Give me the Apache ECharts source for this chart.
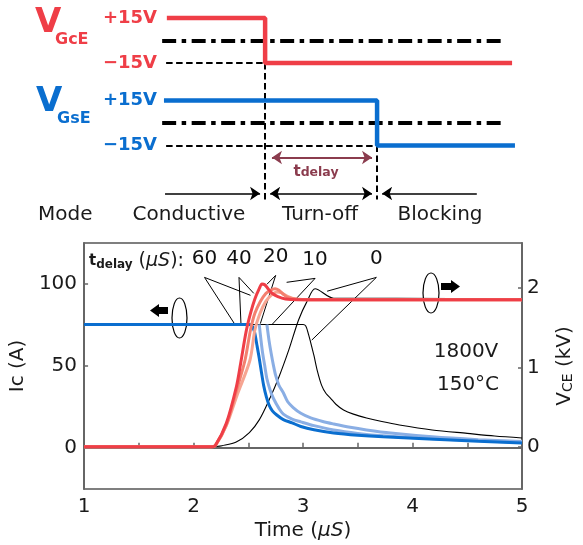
<!DOCTYPE html>
<html>
<head>
<meta charset="utf-8">
<script src="https://cdn.jsdelivr.net/npm/echarts@6/dist/echarts.min.js"></script>
<style>
  html, body { margin: 0; padding: 0; background: #fff; }
  #chart { width: 583px; height: 545px; }
</style>
</head>
<body>
<div id="chart"></div>
<script>
// ---- data: gate schematic (schematic time units, gate volts) ----
const gateLevels = [15, -15];
const gseOffset = -55;              // VGsE lane drawn below VGcE lane
const vgceT = [1.9, 29.2, 29.2, 97.8];
const vgceV = [15, 15, -15, -15];
const vgseT = [1.1, 60.3, 60.3, 98.6];
const vgseV = [15, 15, -15, -15];
const zeroLineT = [0.6, 95];
const lowGuideStart = 1.7;
const guideBottom = -106;
const delayArrowY = -78;
const modeArrowY = -102;
const modeNames = ['Mode', 'Conductive', 'Turn-off', 'Blocking'];

// ---- data: measured turn-off waveforms [time (uS), value] ----
const delays = ['60', '40', '20', '10', '0'];
const ic60 = [[1,75],[2.5,75],[2.53,74.5],[2.555,71],[2.58,62],[2.6,54.5],[2.62,46],[2.64,38],[2.665,31],[2.69,26],[2.72,22.5],[2.76,20],[2.82,17.2],[2.9,15.2],[2.98,13],[3.1,11],[3.28,9.1],[3.5,7.7],[3.73,6.7],[4.2,5.2],[4.6,4],[5,3]];
const ic40 = [[2.6,75],[2.615,66],[2.63,58],[2.65,50],[2.67,42],[2.7,35],[2.73,30],[2.78,24],[2.82,20.5],[2.9,17.5],[2.98,15.8],[3.1,13.5],[3.28,10.9],[3.5,8.8],[3.73,7.3],[4.2,5.5],[4.6,4.4],[5,3.3]];
const ic20 = [[2.67,75],[2.69,65],[2.71,57],[2.73,50],[2.75,44],[2.78,38],[2.82,33.5],[2.86,28],[2.91,24.5],[2.98,21],[3.07,18.2],[3.18,16],[3.28,14.5],[3.43,12.5],[3.58,10.9],[3.8,9],[4.18,6.7],[4.6,5],[5,3.8]];
const ic0 = [[1,75],[3.0,75],[3.025,74],[3.05,69],[3.07,64],[3.1,56],[3.13,47],[3.17,38],[3.21,33],[3.25,30.3],[3.3,26.5],[3.37,23],[3.46,20.5],[3.58,18.2],[3.72,16],[3.88,13.9],[4.18,10.9],[4.5,8.8],[4.75,7.2],[5,6]];
const vce60 = [[1,0],[2.16,0],[2.2,0.02],[2.3,0.3],[2.39,0.75],[2.43,1.05],[2.48,1.45],[2.52,1.68],[2.56,1.86],[2.6,1.99],[2.625,2.05],[2.65,2.04],[2.68,1.99],[2.72,1.93],[2.77,1.89],[2.84,1.86],[2.95,1.85],[5,1.85]];
const vce40 = [[1,0],[2.16,0],[2.2,0.02],[2.3,0.28],[2.39,0.7],[2.47,1.09],[2.52,1.47],[2.56,1.68],[2.61,1.83],[2.66,1.93],[2.7,1.97],[2.745,1.99],[2.78,1.97],[2.82,1.92],[2.86,1.88],[2.93,1.86],[3.05,1.85],[5,1.85]];
const vce20 = [[1,0],[2.16,0],[2.2,0.02],[2.3,0.27],[2.4,0.66],[2.515,1.09],[2.56,1.47],[2.61,1.69],[2.66,1.83],[2.71,1.91],[2.76,1.95],[2.8,1.94],[2.85,1.9],[2.9,1.87],[3.0,1.85],[5,1.85]];
const vce0 = [[1,0],[2.16,0],[2.2,0.004],[2.26,0.015],[2.39,0.06],[2.51,0.18],[2.6,0.34],[2.69,0.59],[2.78,0.88],[2.87,1.22],[2.96,1.6],[3.04,1.84],[3.11,1.99],[3.28,1.87],[3.85,1.87],[5,1.86]];
// leader lines: [curve point, label anchor, curve point] in (uS, A)
const leaderAnchors = [[2.10,103.6],[2.415,103.6],[2.75,104.8],[3.11,103],[3.67,103.6]];
const leaderTargetsA = [[2.37,75.8],[2.433,75.5],[2.61,75.5],[2.72,75.2],[3.08,65.5]];
const leaderTargetsB = [[2.52,92.7],[2.55,93.9],[2.67,99.4],[2.85,100.6],[3.22,95.2]];
const xTicks = [1, 2, 3, 4, 5];
const icTicks = [0, 50, 100];
const vceTicks = [0, 1, 2];

const FONT = "'DejaVu Sans', sans-serif";
const RED = '#ef3e47';
const BLUE = '#0a6ecf';
const LIGHTBLUE = '#8aaee4';
const SALMON = '#f3806f';
const PINK = '#f6a592';
const MAROON = '#8b3c4e';
const INK = '#1a1a1a';
const AXIS = '#666';

const zip = (t, v, off) => t.map((x, i) => [x, v[i] + (off || 0)]);

var myChart = echarts.init(document.getElementById('chart'));

const schem = { xAxisIndex: 0, yAxisIndex: 0, silent: true };
const plotIc = { xAxisIndex: 1, yAxisIndex: 1, type: 'line', showSymbol: false, symbol: 'none', smooth: 0.3, silent: true };
const plotV = { xAxisIndex: 1, yAxisIndex: 2, type: 'line', showSymbol: false, symbol: 'none', smooth: 0.3, silent: true };

let option = {
  animation: false,
  grid: [
    { left: 160, width: 360, top: 10.5, height: 225, show: false },
    { left: 84, width: 441, top: 243, height: 246, show: true, borderColor: '#000', borderWidth: 1.2 }
  ],
  xAxis: [
    { gridIndex: 0, type: 'value', min: 0, max: 100, show: false },
    {
      gridIndex: 1, type: 'value', min: 1, max: 5, interval: 0.5,
      axisLine: { lineStyle: { color: AXIS, width: 2 } },
      axisTick: { inside: true, length: 5, lineStyle: { color: AXIS, width: 1.5 } },
      axisLabel: { customValues: xTicks, fontSize: 20, color: INK, margin: 8, fontFamily: FONT },
      splitLine: { show: false },
      name: 'Time ({i|μS})', nameLocation: 'middle', nameGap: 32,
      nameTextStyle: { fontSize: 20, color: INK, fontFamily: FONT,
        rich: { i: { fontSize: 20, color: INK, fontStyle: 'italic', fontFamily: FONT } } }
    }
  ],
  yAxis: [
    {
      gridIndex: 0, type: 'value', min: -130, max: 20,
      axisLine: { show: false }, axisTick: { show: false }, splitLine: { show: false },
      axisLabel: {
        customValues: [gateLevels[0], gateLevels[1], gateLevels[0] + gseOffset, gateLevels[1] + gseOffset],
        margin: 3,
        formatter: v => {
          const lane = v > gseOffset / 2 ? 'r' : 'b';
          const lvl = lane === 'r' ? v : v - gseOffset;
          return '{' + lane + '|' + (lvl > 0 ? '+' : '−') + Math.abs(lvl) + 'V}';
        },
        rich: {
          r: { color: RED, fontSize: 18, fontWeight: 'bold', fontFamily: FONT },
          b: { color: BLUE, fontSize: 18, fontWeight: 'bold', fontFamily: FONT }
        }
      }
    },
    {
      gridIndex: 1, type: 'value', min: -25, max: 124.5,
      axisLine: { show: true, lineStyle: { color: AXIS, width: 2 } },
      axisTick: { show: true, inside: true, length: 4, customValues: icTicks, lineStyle: { color: AXIS, width: 1.5 } },
      axisLabel: { customValues: icTicks, fontSize: 20, color: INK, margin: 7, fontFamily: FONT },
      splitLine: { show: false },
      name: 'Ic (A)', nameLocation: 'middle', nameRotate: 90, nameGap: 45,
      nameTextStyle: { fontSize: 20, color: INK, fontFamily: FONT }
    },
    {
      gridIndex: 1, type: 'value', position: 'right', min: -0.53, max: 2.565,
      axisLine: { show: true, lineStyle: { color: AXIS, width: 2 } },
      axisTick: { show: true, inside: true, length: 4, customValues: vceTicks, lineStyle: { color: AXIS, width: 1.5 } },
      axisLabel: { customValues: vceTicks, fontSize: 20, color: INK, margin: 5, fontFamily: FONT },
      splitLine: { show: false },
      name: '{v|V}{s|CE}{v| (kV)}', nameLocation: 'middle', nameRotate: 90, nameGap: 33,
      nameTextStyle: {
        color: INK, fontFamily: FONT,
        rich: {
          v: { fontSize: 20, color: INK, fontFamily: FONT },
          s: { fontSize: 14, color: INK, fontFamily: FONT, verticalAlign: 'bottom' }
        }
      }
    }
  ],
  graphic: [
    { type: 'text', x: 35, y: 23, style: { text: 'V', fontSize: 34, fontWeight: 'bold', fill: RED, fontFamily: FONT, verticalAlign: 'middle' } },
    { type: 'text', x: 55, y: 40, style: { text: 'GcE', fontSize: 16, fontWeight: 'bold', fill: RED, fontFamily: FONT, verticalAlign: 'middle' } },
    { type: 'text', x: 36, y: 102, style: { text: 'V', fontSize: 34, fontWeight: 'bold', fill: BLUE, fontFamily: FONT, verticalAlign: 'middle' } },
    { type: 'text', x: 57, y: 119, style: { text: 'GsE', fontSize: 16, fontWeight: 'bold', fill: BLUE, fontFamily: FONT, verticalAlign: 'middle' } },
    { type: 'text', x: 316, y: 172, style: {
      text: '{t|t}{d|delay}', align: 'center', verticalAlign: 'middle',
      rich: { t: { fontSize: 15, fontWeight: 'bold', fill: MAROON, fontFamily: FONT },
              d: { fontSize: 12.5, fontWeight: 'bold', fill: MAROON, fontFamily: FONT, verticalAlign: 'bottom' } } } },
    { type: 'text', x: 38, y: 215, style: { text: modeNames[0], fontSize: 20, fill: INK, fontFamily: FONT, verticalAlign: 'middle' } },
    { type: 'text', x: 189, y: 215, style: { text: modeNames[1], fontSize: 20, fill: INK, fontFamily: FONT, align: 'center', verticalAlign: 'middle' } },
    { type: 'text', x: 320, y: 215, style: { text: modeNames[2], fontSize: 20, fill: INK, fontFamily: FONT, align: 'center', verticalAlign: 'middle' } },
    { type: 'text', x: 440, y: 215, style: { text: modeNames[3], fontSize: 20, fill: INK, fontFamily: FONT, align: 'center', verticalAlign: 'middle' } },
    { type: 'text', x: 89, y: 261, style: {
      text: '{t|t}{d|delay}{n| (}{i|μS}{n|):}', verticalAlign: 'middle',
      rich: { t: { fontSize: 15, fontWeight: 'bold', fill: INK, fontFamily: FONT },
              d: { fontSize: 12, fontWeight: 'bold', fill: INK, fontFamily: FONT, verticalAlign: 'bottom' },
              n: { fontSize: 19, fill: INK, fontFamily: FONT },
              i: { fontSize: 19, fill: INK, fontFamily: FONT, fontStyle: 'italic' } } } },
    { type: 'text', x: 466, y: 352, style: { text: '1800V', fontSize: 20, fill: INK, fontFamily: FONT, align: 'center', verticalAlign: 'middle' } },
    { type: 'text', x: 468, y: 385, style: { text: '150°C', fontSize: 20, fill: INK, fontFamily: FONT, align: 'center', verticalAlign: 'middle' } },
    { type: 'ellipse', shape: { cx: 179.5, cy: 318, rx: 7.5, ry: 20 }, style: { fill: 'none', stroke: '#000', lineWidth: 1.2 } },
    { type: 'polygon', shape: { points: [[150,310.5],[159,304],[159,307],[168,307],[168,314],[159,314],[159,317]] }, style: { fill: '#000' } },
    { type: 'ellipse', shape: { cx: 431, cy: 293, rx: 8, ry: 20 }, style: { fill: 'none', stroke: '#000', lineWidth: 1.2 } },
    { type: 'polygon', shape: { points: [[460,286.5],[451,280],[451,283],[441,283],[441,290],[451,290],[451,293]] }, style: { fill: '#000' } }
  ],
  series: [
    // ---- schematic ----
    Object.assign({}, schem, {
      type: 'lines', coordinateSystem: 'cartesian2d',
      lineStyle: { color: '#000', width: 4, type: [14, 5.5, 4.5, 5.5], opacity: 1 },
      data: [
        { coords: [[zeroLineT[0], 0], [zeroLineT[1], 0]] },
        { coords: [[zeroLineT[0], gseOffset], [zeroLineT[1], gseOffset]] }
      ]
    }),
    Object.assign({}, schem, {
      type: 'lines', coordinateSystem: 'cartesian2d',
      lineStyle: { color: '#000', width: 2, type: [6.5, 3.5], opacity: 1 },
      data: [
        { coords: [[lowGuideStart, gateLevels[1]], [vgceT[1], gateLevels[1]]] },
        { coords: [[lowGuideStart, gateLevels[1] + gseOffset], [vgseT[1], gateLevels[1] + gseOffset]] },
        { coords: [[vgceT[1], gateLevels[1]], [vgceT[1], guideBottom]] },
        { coords: [[vgseT[1], gateLevels[1] + gseOffset], [vgseT[1], guideBottom]] }
      ]
    }),
    Object.assign({}, schem, {
      type: 'line', symbol: 'none', data: zip(vgceT, vgceV),
      lineStyle: { color: RED, width: 4.5 }
    }),
    Object.assign({}, schem, {
      type: 'line', symbol: 'none', data: zip(vgseT, vgseV, gseOffset),
      lineStyle: { color: BLUE, width: 4.5 }
    }),
    Object.assign({}, schem, {
      type: 'lines', coordinateSystem: 'cartesian2d', symbol: ['arrow', 'arrow'], symbolSize: 10,
      lineStyle: { color: MAROON, width: 2, opacity: 1 },
      data: [{ coords: [[vgceT[1] + 1.9, delayArrowY], [vgseT[1] - 1.4, delayArrowY]] }]
    }),
    Object.assign({}, schem, {
      type: 'lines', coordinateSystem: 'cartesian2d', symbol: ['arrow', 'arrow'], symbolSize: 10,
      lineStyle: { color: '#000', width: 1.5, opacity: 1 },
      data: [{ coords: [[vgceT[1] + 1.4, modeArrowY], [vgseT[1] - 1.4, modeArrowY]] }]
    }),
    Object.assign({}, schem, {
      type: 'lines', coordinateSystem: 'cartesian2d', symbol: ['none', 'arrow'], symbolSize: 10,
      lineStyle: { color: '#000', width: 1.5, opacity: 1 },
      data: [
        { coords: [[1.4, modeArrowY], [vgceT[1] - 1.4, modeArrowY]] },
        { coords: [[88, modeArrowY], [vgseT[1] + 1.4, modeArrowY]] }
      ]
    }),
    // ---- waveforms ----
    Object.assign({}, plotIc, { data: ic0, lineStyle: { color: '#000', width: 1.1 } }),
    Object.assign({}, plotV, { data: vce0, lineStyle: { color: '#000', width: 1.1 } }),
    Object.assign({}, plotIc, { data: ic20, lineStyle: { color: LIGHTBLUE, width: 3 } }),
    Object.assign({}, plotIc, { data: ic40, lineStyle: { color: LIGHTBLUE, width: 3 } }),
    Object.assign({}, plotIc, { data: ic60, lineStyle: { color: BLUE, width: 3 } }),
    Object.assign({}, plotV, { data: vce20, lineStyle: { color: PINK, width: 3 } }),
    Object.assign({}, plotV, { data: vce40, lineStyle: { color: SALMON, width: 3 } }),
    Object.assign({}, plotV, { data: vce60, lineStyle: { color: RED, width: 3 } }),
    {
      type: 'lines', coordinateSystem: 'cartesian2d', xAxisIndex: 1, yAxisIndex: 1, polyline: true, silent: true,
      lineStyle: { color: '#000', width: 1, opacity: 1 },
      data: leaderAnchors.map((a, i) => ({ coords: [leaderTargetsA[i], a, leaderTargetsB[i]] }))
    },
    {
      type: 'scatter', xAxisIndex: 1, yAxisIndex: 1, symbolSize: 1, silent: true,
      itemStyle: { color: 'rgba(0,0,0,0)' },
      data: leaderAnchors.map((a, i) => [a[0], a[1], delays[i]]),
      label: { show: true, position: 'top', distance: 8, formatter: p => p.value[2],
        fontSize: 20, color: '#111', opacity: 1, textBorderWidth: 0, fontFamily: FONT }
    }
  ]
};
myChart.setOption(option);
</script>
</body>
</html>
